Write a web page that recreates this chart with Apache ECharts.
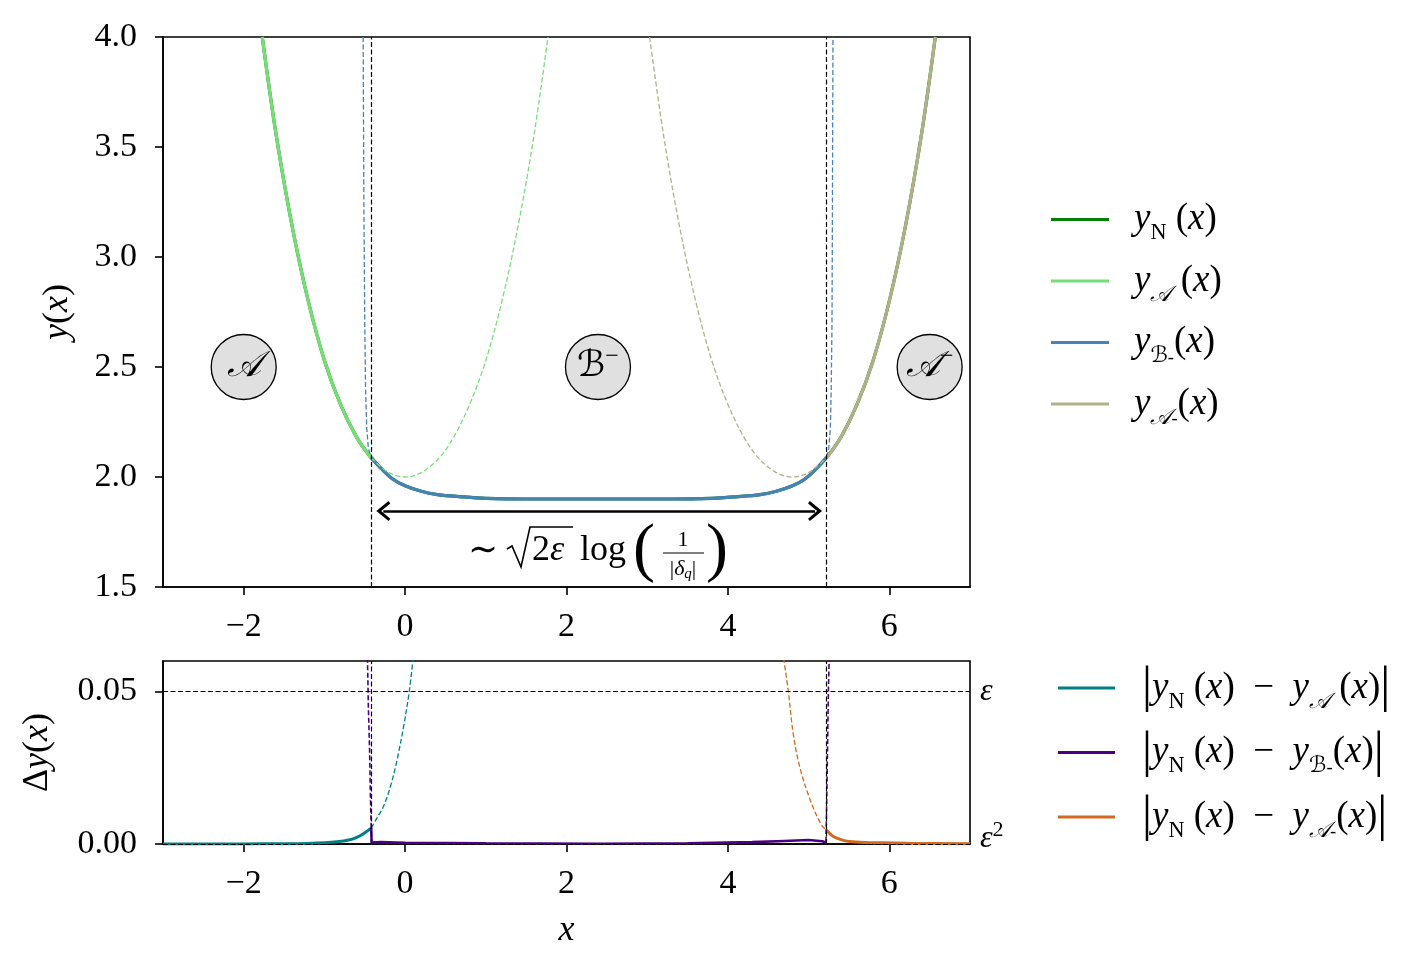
<!DOCTYPE html>
<html>
<head>
<meta charset="utf-8">
<script src="https://cdn.jsdelivr.net/npm/echarts@6/dist/echarts.min.js"></script>
<style>
  html, body { margin: 0; padding: 0; background: #fff; }
  #chart { width: 1421px; height: 971px; }
</style>
</head>
<body>
<div id="chart"></div>
<script>
// ---- data ----
const xTicks = [-2, 0, 2, 4, 6]
const yTicksBottom = [0, 0.05]

// top panel
const yN_x = [-1.77, -1.6, -1.4, -1.2, -1.0, -0.8, -0.6, -0.42, -0.3, -0.15, 0, 0.2, 0.4, 0.7, 1.0, 1.5, 2.4, 3.3, 3.8, 4.1, 4.4, 4.6, 4.8, 4.95, 5.1, 5.22, 5.4, 5.6, 5.8, 6.0, 6.2, 6.4, 6.57]
const yN_y = [4.0, 3.56, 3.14, 2.80, 2.53, 2.33, 2.18, 2.087, 2.04, 1.99, 1.96, 1.935, 1.92, 1.91, 1.903, 1.90, 1.90, 1.90, 1.903, 1.91, 1.92, 1.935, 1.96, 1.99, 2.04, 2.087, 2.18, 2.33, 2.53, 2.80, 3.14, 3.56, 4.0]

const yA_x = [-1.77, -1.6, -1.4, -1.2, -1.0, -0.8, -0.6, -0.42]
const yA_y = [4.0, 3.56, 3.14, 2.80, 2.53, 2.33, 2.18, 2.086]
const yAdash_x = [-0.42, -0.2, 0, 0.2, 0.42, 0.6, 0.8, 1.0, 1.2, 1.4, 1.6, 1.77]
const yAdash_y = [2.086, 2.02, 2.0, 2.02, 2.086, 2.18, 2.33, 2.53, 2.80, 3.14, 3.56, 4.0]

const yB_x = [-0.42, -0.3, -0.15, 0, 0.2, 0.4, 0.7, 1.0, 1.5, 2.4, 3.3, 3.8, 4.1, 4.4, 4.6, 4.8, 4.95, 5.1, 5.22]
const yB_y = [2.09, 2.04, 1.99, 1.96, 1.935, 1.92, 1.91, 1.903, 1.90, 1.90, 1.90, 1.903, 1.91, 1.92, 1.935, 1.96, 1.99, 2.04, 2.09]
const yBdashL_x = [-0.52, -0.51, -0.50, -0.49, -0.475, -0.455, -0.42]
const yBdashL_y = [4.0, 3.2, 2.7, 2.4, 2.22, 2.13, 2.09]
const yBdashR_x = [5.22, 5.25, 5.27, 5.28, 5.29, 5.295, 5.302]
const yBdashR_y = [2.09, 2.13, 2.22, 2.4, 2.7, 3.2, 4.0]

const yAm_x = [5.22, 5.4, 5.6, 5.8, 6.0, 6.2, 6.4, 6.57]
const yAm_y = [2.086, 2.18, 2.33, 2.53, 2.80, 3.14, 3.56, 4.0]
const yAmdash_x = [3.03, 3.2, 3.4, 3.6, 3.8, 4.0, 4.2, 4.38, 4.6, 4.8, 5.0, 5.22]
const yAmdash_y = [4.0, 3.56, 3.14, 2.80, 2.53, 2.33, 2.18, 2.086, 2.02, 2.0, 2.02, 2.086]

const matchX = [-0.42, 5.22]
const arrowFrom = [-0.27, 1.845]
const arrowTo = [5.08, 1.845]
const regionX = [-2, 2.39, 6.5]
const regionY = [2.5, 2.5, 2.5]
const regionLabels = ['{c|𝒜}', '{c|ℬ}{p|−}', '{c|𝒜}{p|−}']

// bottom panel
const dA_x = [-3, -2, -1.5, -1.2, -1.0, -0.85, -0.7, -0.6, -0.52, -0.42]
const dA_y = [0, 0.00003, 0.0001, 0.0002, 0.0004, 0.0007, 0.0013, 0.0022, 0.0033, 0.0052]
const dAdash_x = [-0.42, -0.35, -0.27, -0.18, -0.10, -0.02, 0.05, 0.1]
const dAdash_y = [0.0052, 0.0085, 0.0122, 0.019, 0.0275, 0.0383, 0.0498, 0.061]

const dB_x = [-0.42, -0.415, -0.3, 0, 1, 2.4, 3.5, 4.3, 4.7, 5.0, 5.17, 5.22]
const dB_y = [0.0055, 0.0005, 0.0006, 0.0004, 0.0002, 0.0001, 0.0002, 0.0006, 0.0010, 0.0013, 0.0009, 0.0004]
const dBdashL_x = [-0.47, -0.455, -0.44, -0.43, -0.42]
const dBdashL_y = [0.066, 0.045, 0.0307, 0.016, 0.0055]
const dBdashR_x = [5.215, 5.225, 5.235, 5.245, 5.26]
const dBdashR_y = [0.0008, 0.015, 0.032, 0.05, 0.066]

const dAm_x = [5.22, 5.28, 5.35, 5.43, 5.51, 5.7, 5.89, 6.3, 7]
const dAm_y = [0.0046, 0.0030, 0.0019, 0.0012, 0.0008, 0.0005, 0.0004, 0.0002, 0.0001]
const dAmdash_x = [4.69, 4.75, 4.81, 4.89, 5.02, 5.16, 5.22]
const dAmdash_y = [0.061, 0.0498, 0.036, 0.0253, 0.0144, 0.0062, 0.0046]

const epsLevels = [0.05, 0.0025]
const epsLabels = ['{i|ε}', '{i|ε}{sup|2}']

const SERIF = "'Liberation Serif', 'DejaVu Serif', serif"
const CAL = "'DejaVu Serif', 'DejaVu Sans', 'Liberation Serif', serif"

const C = {
  yN: '#008000', yA: '#77dd77', yB: '#4682b4', yAm: '#b2b08b',
  dA: '#008080', dB: '#4b0082', dAm: '#d2691e'
}

const zip = (xs, ys) => xs.map((x, i) => [x, ys[i]])
const dash = [5, 2.5]

const line = (name, xs, ys, color, opts = {}) => ({
  type: 'line',
  name,
  xAxisIndex: opts.grid || 0,
  yAxisIndex: opts.grid || 0,
  data: zip(xs, ys),
  showSymbol: false,
  symbol: 'none',
  smooth: opts.smooth ?? 0.35,
  clip: true,
  z: opts.z || 2,
  lineStyle: {color, width: opts.width || (opts.dashed ? 1.3 : 3.2), type: opts.dashed ? dash : 'solid'},
  itemStyle: {color},
  emphasis: {disabled: true},
  silent: true,
  markLine: opts.markLine
})

const vLines = {
  silent: true,
  symbol: 'none',
  label: {show: false},
  lineStyle: {color: '#000', type: dash, width: 1.2},
  data: matchX.map(v => ({xAxis: v}))
}

const mathRich = (size) => ({
  n: {fontFamily: SERIF, fontSize: size, lineHeight: 50, color: '#000'},
  i: {fontFamily: SERIF, fontStyle: 'italic', fontSize: size, lineHeight: 50, color: '#000'},
  s: {fontFamily: SERIF, fontSize: size * 0.6, lineHeight: 20, verticalAlign: 'bottom', color: '#000'},
  c: {fontFamily: CAL, fontStyle: 'italic', fontSize: size * 0.6, lineHeight: 20, verticalAlign: 'bottom', color: '#000'},
  m: {fontFamily: SERIF, fontSize: size * 0.5, lineHeight: 40, verticalAlign: 'bottom', color: '#000'},
  bar: {fontFamily: SERIF, fontSize: size * 1.35, lineHeight: 50, color: '#000'}
})

const legendTop = {
  yN: '{i|y}{s|N}{n| (}{i|x}{n|)}',
  yA: '{i|y}{c|𝒜}{n| (}{i|x}{n|)}',
  yB: '{i|y}{c|ℬ}{m|-}{n|(}{i|x}{n|)}',
  yAm: '{i|y}{c|𝒜}{m|-}{n|(}{i|x}{n|)}'
}
const legendBottom = {
  dA: '{bar||}{i|y}{s|N}{n| (}{i|x}{n|)  −  }{i|y}{c|𝒜}{n| (}{i|x}{n|)}{bar||}',
  dB: '{bar||}{i|y}{s|N}{n| (}{i|x}{n|)  −  }{i|y}{c|ℬ}{m|-}{n|(}{i|x}{n|)}{bar||}',
  dAm: '{bar||}{i|y}{s|N}{n| (}{i|x}{n|)  −  }{i|y}{c|𝒜}{m|-}{n|(}{i|x}{n|)}{bar||}'
}

const fmtX = v => (v < 0 ? '−' + (-v) : '' + v)
const tickFont = {fontFamily: SERIF, fontSize: 34, color: '#000'}
const axisLineStyle = {show: true, onZero: false, lineStyle: {color: '#000', width: 1.6}}

const chart = echarts.init(document.getElementById('chart'), null, {renderer: 'canvas'})

const option = {
  animation: false,
  backgroundColor: '#fff',
  grid: [
    {left: 163, top: 37, width: 807, height: 550, show: true, borderColor: '#000', borderWidth: 1.6, backgroundColor: 'transparent'},
    {left: 163, top: 661, width: 807, height: 183, show: true, borderColor: '#000', borderWidth: 1.6, backgroundColor: 'transparent'}
  ],
  xAxis: [0, 1].map(g => ({
    type: 'value', gridIndex: g, min: -3, max: 7,
    name: g === 1 ? '{i|x}' : '',
    nameLocation: 'middle', nameGap: 62,
    nameTextStyle: {rich: mathRich(36)},
    axisLine: axisLineStyle,
    axisTick: {show: true, length: 8, customValues: xTicks, lineStyle: {color: '#000', width: 1.6}},
    axisLabel: {customValues: xTicks, formatter: fmtX, margin: 23, ...tickFont},
    splitLine: {show: false}
  })),
  yAxis: [
    {
      type: 'value', gridIndex: 0, min: 1.5, max: 4.0, interval: 0.5,
      name: '{i|y}{n|(}{i|x}{n|)}', nameLocation: 'middle', nameGap: 80,
      nameTextStyle: {rich: mathRich(36)},
      axisLine: axisLineStyle,
      axisTick: {show: true, length: 8, lineStyle: {color: '#000', width: 1.6}},
      axisLabel: {formatter: v => v.toFixed(1), margin: 26, ...tickFont},
      splitLine: {show: false}
    },
    {
      type: 'value', gridIndex: 1, min: 0, max: 0.06,
      name: '{n|Δ}{i|y}{n|(}{i|x}{n|)}', nameLocation: 'middle', nameGap: 100,
      nameTextStyle: {rich: mathRich(36)},
      axisLine: axisLineStyle,
      axisTick: {show: true, length: 8, customValues: yTicksBottom, lineStyle: {color: '#000', width: 1.6}},
      axisLabel: {customValues: yTicksBottom, formatter: v => v.toFixed(2), margin: 26, ...tickFont},
      splitLine: {show: false}
    }
  ],
  legend: [
    {
      data: Object.keys(legendTop), orient: 'vertical', left: 1046, top: 196,
      icon: 'rect', itemWidth: 58, itemHeight: 3, itemGap: 18,
      selectedMode: false,
      formatter: n => legendTop[n],
      textStyle: {rich: mathRich(37), padding: [0, 0, 0, 20]}
    },
    {
      data: Object.keys(legendBottom), orient: 'vertical', left: 1053, top: 658,
      icon: 'rect', itemWidth: 57, itemHeight: 3, itemGap: 14.5,
      selectedMode: false,
      formatter: n => legendBottom[n],
      textStyle: {rich: mathRich(37), padding: [0, 0, 0, 22]}
    }
  ],
  series: [
    // top panel
    line('yN', yN_x, yN_y, C.yN, {z: 1, markLine: vLines}),
    line('yA', yA_x, yA_y, C.yA, {z: 2}),
    line('yB', yB_x, yB_y, C.yB, {
      z: 3,
      markLine: {
        silent: true,
        symbol: ['path://M5,0 L10,7 L8.8,8 L5,2.8 L1.2,8 L0,7 Z', 'path://M5,0 L10,7 L8.8,8 L5,2.8 L1.2,8 L0,7 Z'],
        symbolSize: [20, 14],
        label: {show: false},
        lineStyle: {color: '#000', type: 'solid', width: 2.6},
        data: [[{coord: arrowFrom}, {coord: arrowTo}]]
      }
    }),
    line('yAm', yAm_x, yAm_y, C.yAm, {z: 2}),
    line('yA dashed', yAdash_x, yAdash_y, C.yA, {dashed: true, z: 4}),
    line('yB dashed L', yBdashL_x, yBdashL_y, C.yB, {dashed: true, z: 4, smooth: false}),
    line('yB dashed R', yBdashR_x, yBdashR_y, C.yB, {dashed: true, z: 4, smooth: false}),
    line('yAm dashed', yAmdash_x, yAmdash_y, C.yAm, {dashed: true, z: 4}),
    {
      type: 'scatter', xAxisIndex: 0, yAxisIndex: 0, silent: true, z: 6,
      symbol: 'circle', symbolSize: 65,
      itemStyle: {color: '#e0e0e0', borderColor: '#000', borderWidth: 1.3, opacity: 1},
      label: {
        show: true, position: 'inside',
        formatter: p => regionLabels[p.dataIndex],
        rich: {
          c: {fontFamily: CAL, fontStyle: 'italic', fontSize: 36, lineHeight: 44, color: '#000'},
          p: {fontFamily: SERIF, fontSize: 24, lineHeight: 44, verticalAlign: 'top', color: '#000'}
        }
      },
      data: zip(regionX, regionY)
    },
    // bottom panel
    line('dA', dA_x, dA_y, C.dA, {grid: 1, z: 3, width: 3,
      markLine: {
        silent: true, symbol: 'none',
        lineStyle: {color: '#000', type: dash, width: 1.2},
        label: {
          show: true, position: 'end', distance: 10,
          formatter: p => epsLabels[p.dataIndex],
          rich: {
            i: {fontFamily: SERIF, fontStyle: 'italic', fontSize: 32, lineHeight: 40, color: '#000'},
            sup: {fontFamily: SERIF, fontSize: 22, lineHeight: 14, verticalAlign: 'top', color: '#000'}
          }
        },
        data: epsLevels.map((v, k) => ({yAxis: v, label: {offset: [0, k === 1 ? -5 : 0]}}))
      }
    }),
    line('dB', dB_x, dB_y, C.dB, {grid: 1, z: 3, width: 2.6, smooth: false, markLine: vLines}),
    line('dAm', dAm_x, dAm_y, C.dAm, {grid: 1, z: 3, width: 3}),
    line('dA dashed', dAdash_x, dAdash_y, C.dA, {grid: 1, dashed: true, z: 4}),
    line('dB dashed L', dBdashL_x, dBdashL_y, C.dB, {grid: 1, dashed: true, z: 4, width: 1.6, smooth: false}),
    line('dB dashed R', dBdashR_x, dBdashR_y, C.dB, {grid: 1, dashed: true, z: 4, width: 1.6, smooth: false}),
    line('dAm dashed', dAmdash_x, dAmdash_y, C.dAm, {grid: 1, dashed: true, z: 4})
  ],
  graphic: [
    {type: 'text', x: 483, y: 552, style: {text: '∼', font: `36px ${SERIF}`, fill: '#000', textAlign: 'center', textVerticalAlign: 'middle'}},
    {type: 'polyline', shape: {points: [[507, 549], [512, 546], [521, 567], [530, 527], [573, 527]]}, style: {stroke: '#000', lineWidth: 1.6, fill: null}},
    {type: 'text', x: 532, y: 551, style: {
      text: '{n|2}{i|ε}', fill: '#000', textVerticalAlign: 'middle',
      rich: {n: {fontFamily: SERIF, fontSize: 36}, i: {fontFamily: SERIF, fontStyle: 'italic', fontSize: 36}}
    }},
    {type: 'text', x: 580, y: 551, style: {text: 'log', font: `36px ${SERIF}`, fill: '#000', textVerticalAlign: 'middle'}},
    {type: 'text', x: 644, y: 552, style: {text: '(', font: `66px ${SERIF}`, fill: '#000', textAlign: 'center', textVerticalAlign: 'middle'}},
    {type: 'text', x: 717, y: 552, style: {text: ')', font: `66px ${SERIF}`, fill: '#000', textAlign: 'center', textVerticalAlign: 'middle'}},
    {type: 'text', x: 683, y: 540, style: {text: '1', font: `22px ${SERIF}`, fill: '#000', textAlign: 'center', textVerticalAlign: 'middle'}},
    {type: 'line', shape: {x1: 663, y1: 553, x2: 704, y2: 553}, style: {stroke: '#000', lineWidth: 1.2}},
    {type: 'text', x: 683, y: 569, style: {
      text: '{n||}{i|δ}{s|q}{n||}', fill: '#000', textAlign: 'center', textVerticalAlign: 'middle',
      rich: {
        n: {fontFamily: SERIF, fontSize: 22, lineHeight: 26},
        i: {fontFamily: SERIF, fontStyle: 'italic', fontSize: 22, lineHeight: 26},
        s: {fontFamily: SERIF, fontStyle: 'italic', fontSize: 15, lineHeight: 12, verticalAlign: 'bottom'}
      }
    }}
  ]
}

chart.setOption(option)
</script>
</body>
</html>
